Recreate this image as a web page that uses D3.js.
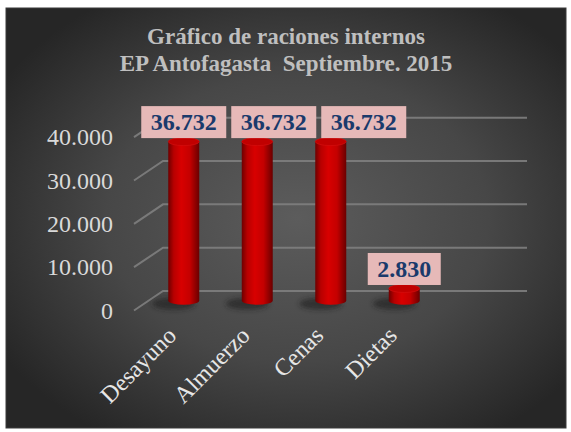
<!DOCTYPE html>
<html><head><meta charset="utf-8">
<script src="https://cdn.jsdelivr.net/npm/d3@7"></script>
<style>html,body{margin:0;padding:0;background:#fff;}svg{display:block;}text{white-space:pre;}</style>
</head><body><svg id="c" width="571" height="432"></svg>
<script>
const titleLines = ["Gráfico de raciones internos", "EP Antofagasta  Septiembre. 2015"];
const categories = ["Desayuno", "Almuerzo", "Cenas", "Dietas"];
const values = [36732, 36732, 36732, 2830];
const yTicks = [0, 10000, 20000, 30000, 40000];

const loc = d3.formatLocale({decimal: ",", thousands: ".", grouping: [3], currency: ["$", ""]});
const fmt = loc.format(",");
const FONT = "'Liberation Serif', 'Times New Roman', serif";

const svg = d3.select("#c");
const defs = svg.append("defs");
const bg = defs.append("radialGradient").attr("id", "bg").attr("cx", "0.52").attr("cy", "0.5").attr("r", "0.62");
bg.append("stop").attr("offset", "0%").attr("stop-color", "#5c5c5c");
bg.append("stop").attr("offset", "55%").attr("stop-color", "#474747");
bg.append("stop").attr("offset", "100%").attr("stop-color", "#262626");
const cg = defs.append("linearGradient").attr("id", "cyl").attr("x1", "0").attr("x2", "1").attr("y1", "0").attr("y2", "0");
[["0%", "#6e0000"], ["18%", "#b80000"], ["42%", "#d80000"], ["70%", "#c40000"], ["100%", "#6a0000"]]
  .forEach(([o, c]) => cg.append("stop").attr("offset", o).attr("stop-color", c));
const blur = defs.append("filter").attr("id", "blur").attr("x", "-50%").attr("y", "-50%").attr("width", "200%").attr("height", "200%");
blur.append("feGaussianBlur").attr("stdDeviation", 2.5);

// chart area
svg.append("rect").attr("x", 6).attr("y", 8).attr("width", 560).attr("height", 420)
  .attr("fill", "url(#bg)").attr("stroke", "#3a3a3a").attr("stroke-width", 1);

// title
const title = svg.append("text").attr("text-anchor", "middle")
  .attr("font-family", FONT).attr("font-weight", "bold")
  .attr("font-size", 23).attr("fill", "#bfbfbf");
titleLines.forEach((t, i) => title.append("tspan").attr("x", 286).attr("y", 44 + i * 27).text(t));

// scales (back wall)
const y = d3.scaleLinear().domain([0, 40000]).range([291, 117.7]);
const depth = {dx: -29, dy: 19.5};
const wallLeft = 163, wallRight = 527;
const x = d3.scaleBand().domain(categories).range([147, 441]);

// gridlines
const grid = svg.append("g").attr("stroke", "#7f7f7f").attr("stroke-width", 2).attr("fill", "none").attr("opacity", 0.9);
yTicks.forEach(t => {
  grid.append("path").attr("d",
    `M${wallLeft + depth.dx},${y(t) + depth.dy} L${wallLeft},${y(t)} L${wallRight},${y(t)}`);
});

// y labels
svg.append("g").selectAll("text").data(yTicks).join("text")
  .attr("x", 113).attr("y", d => y(d) + depth.dy).attr("dy", "0.34em")
  .attr("text-anchor", "end").attr("font-family", FONT)
  .attr("font-size", 24).attr("fill", "#d9d9d9").text(d => fmt(d));

// bars (mid depth)
const r = 15.5, ry = 4;
const midY = v => y(v) + depth.dy / 2;
const cx = c => x(c) + x.bandwidth() / 2;
const bars = svg.append("g");
categories.forEach((c, i) => {
  const xc = cx(c), top = midY(values[i]), bot = midY(0);
  bars.append("ellipse").attr("cx", xc - 10).attr("cy", bot + 3).attr("rx", r + 6).attr("ry", ry + 2)
    .attr("fill", "#1a1a1a").attr("opacity", 0.6).attr("filter", "url(#blur)");
  bars.append("path").attr("d",
    `M${xc - r},${top} L${xc - r},${bot} A${r},${ry} 0 0 0 ${xc + r},${bot} L${xc + r},${top} Z`)
    .attr("fill", "url(#cyl)");
  bars.append("ellipse").attr("cx", xc).attr("cy", top).attr("rx", r).attr("ry", ry)
    .attr("fill", "#c00000").attr("stroke", "#d81010").attr("stroke-width", 0.6);
});

// category labels (front)
svg.append("g").selectAll("text").data(categories).join("text")
  .attr("transform", d => `translate(${cx(d) - 6},${337}) rotate(-45)`)
  .attr("text-anchor", "end").attr("font-family", FONT)
  .attr("font-size", 24).attr("fill", "#e6e6e6").text(d => d);

// data labels
const lg = svg.append("g");
const pad = 9.5, bh = 32;
let prev = null;
categories.forEach((c, i) => {
  const g = lg.append("g");
  const rect = g.append("rect").attr("fill", "#e6b9b8");
  const txt = g.append("text").attr("text-anchor", "middle")
    .attr("font-family", FONT).attr("font-weight", "bold")
    .attr("font-size", 24).attr("fill", "#1a3a6b").text(fmt(values[i]));
  const w = txt.node().getComputedTextLength() + 2 * pad;
  const topY = midY(values[i]) - 3.5 - bh;
  let left = cx(c) - w / 2;
  if (prev && Math.abs(prev.top - topY) < bh && left < prev.right + 5) left = prev.right + 5;
  prev = {right: left + w, top: topY};
  rect.attr("x", left).attr("y", topY).attr("width", w).attr("height", bh);
  txt.attr("x", left + w / 2).attr("y", topY + bh / 2).attr("dy", "0.34em");
});
</script></body></html>
